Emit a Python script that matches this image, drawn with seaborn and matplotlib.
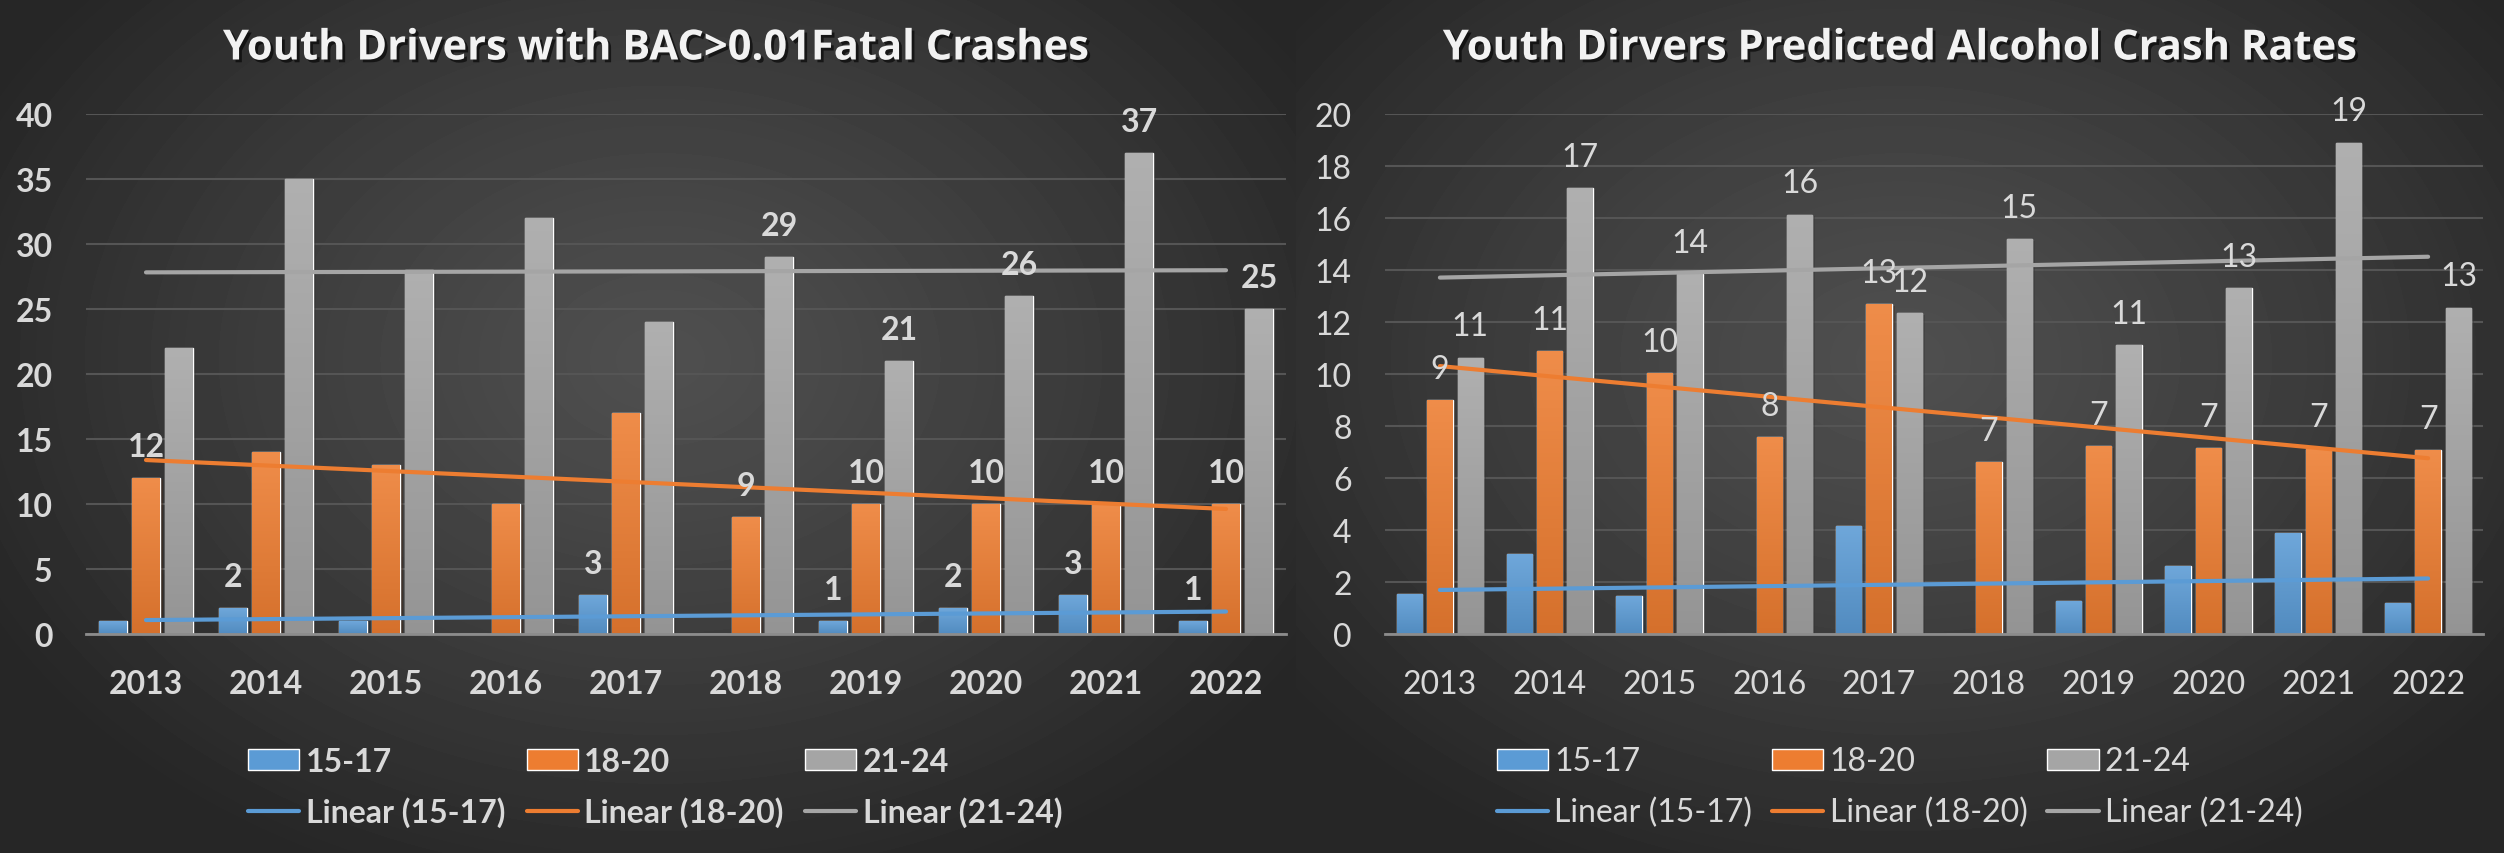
import numpy as np
import pandas as pd
import matplotlib
matplotlib.use("Agg")
import matplotlib.pyplot as plt
import matplotlib.patheffects as pe
from matplotlib.patches import Patch
from matplotlib.lines import Line2D
from matplotlib.colors import to_rgb
import seaborn as sns

# Data
years = ["2013", "2014", "2015", "2016", "2017", "2018", "2019", "2020", "2021", "2022"]
groups = ["15-17", "18-20", "21-24"]

# left chart: youth drivers with BAC > 0.01 in fatal crashes
crash_1517 = [1, 2, 1, 0, 3, 0, 1, 2, 3, 1]
crash_1820 = [12, 14, 13, 10, 17, 9, 10, 10, 10, 10]
crash_2124 = [22, 35, 28, 32, 24, 29, 21, 26, 37, 25]

# right chart: predicted alcohol crash rates
rate_1517 = [1.53, 3.06, 1.45, 0, 4.17, 0, 1.26, 2.60, 3.90, 1.18]
rate_1820 = [8.99, 10.87, 10.03, 7.57, 12.68, 6.61, 7.22, 7.15, 7.13, 7.07]
rate_2124 = [10.63, 17.14, 13.83, 16.13, 12.33, 15.18, 11.10, 13.30, 18.90, 12.55]

# which bars carry a data label in the original
crash_lab_1517 = [0, 1, 0, 0, 1, 0, 1, 1, 1, 1]
crash_lab_1820 = [1, 0, 0, 0, 0, 1, 1, 1, 1, 1]
crash_lab_2124 = [0, 0, 0, 0, 0, 1, 1, 1, 1, 1]
rate_lab_1517 = [0] * 10
rate_lab_1820 = [1] * 10
rate_lab_2124 = [1] * 10

colors = ["#5b9bd5", "#ed7d31", "#a5a5a5"]
txt_color = "#d9d9d9"

sns.set_theme(style="dark")
plt.rcParams["font.family"] = ["Lato", "DejaVu Sans"]

W, H = 2504, 854
fig = plt.figure(figsize=(W / 100, H / 100), dpi=100)

# dark background with a soft radial glow behind each chart
bg_ax = fig.add_axes([0, 0, 1, 1], zorder=-10)
yy, xx = np.mgrid[0:H, 0:W]
bg = np.zeros((H, W))
for cx, x0, x1 in [(660, 0, 1296), (1900, 1296, W)]:
    d = np.sqrt(((xx - cx) / 760.0) ** 2 + ((yy - 360) / 560.0) ** 2)
    d = np.clip(d, 0, 1) ** 1.2
    val = 0.31 * (1 - d) + 0.15 * d
    m = (xx >= x0) & (xx < x1)
    bg[m] = val[m]
bg_ax.imshow(bg, cmap="gray", vmin=0, vmax=1, aspect="auto")
bg_ax.axis("off")


def shade(c, f):
    r = np.array(to_rgb(c))
    if f > 0:
        return r + (1 - r) * f
    return r * (1 + f)


def gradient_bars(ax):
    for cont, c in zip(ax.containers, colors):
        top, bot = shade(c, 0.12), shade(c, -0.1)
        t = np.linspace(0, 1, 64)[:, None, None]
        img = top * (1 - t) + bot * t
        for p in cont.patches:
            h = p.get_height()
            if h <= 0:
                continue
            x = p.get_x()
            im = ax.imshow(img, extent=[x, x + p.get_width(), 0, h], origin="upper",
                           aspect="auto", zorder=p.get_zorder() + 0.1)
            im.set_clip_path(p)
            p.set_path_effects([pe.SimplePatchShadow(offset=(2, -1), alpha=0.35), pe.Normal()])


def draw_chart(ax, series, labels, ymax, ystep, weight):
    df = pd.DataFrame({
        "year": years * 3,
        "group": np.repeat(groups, len(years)),
        "value": np.concatenate(series),
    })
    sns.barplot(data=df, x="year", y="value", hue="group", hue_order=groups,
                palette=colors, width=0.83, gap=0.16, saturation=1,
                legend=False, errorbar=None, ax=ax, zorder=2)
    gradient_bars(ax)

    xs = np.arange(len(years))
    for vals, c in zip(series, colors):
        sns.regplot(x=xs, y=np.array(vals, dtype=float), scatter=False, ci=None,
                    truncate=True, ax=ax, color=c, line_kws={"lw": 3, "zorder": 5})

    for cont, vals, flags in zip(ax.containers, series, labels):
        for p, v, f in zip(cont.patches, vals, flags):
            if not f:
                continue
            ax.annotate(f"{round(v)}", (p.get_x() + p.get_width() / 2, v),
                        xytext=(0, 16), textcoords="offset points", ha="center",
                        va="baseline", fontsize=23, color=txt_color,
                        fontweight=weight, zorder=6, annotation_clip=False)

    ax.set_xlim(-0.5, len(years) - 0.5)
    ax.set_ylim(0, ymax)
    ax.set_yticks(np.arange(0, ymax + 0.1, ystep))
    ax.set_facecolor("none")
    ax.grid(axis="y", color="#555555", lw=1.5)
    ax.grid(axis="x", visible=False)
    ax.set_axisbelow(True)
    for s in ["top", "right", "left"]:
        ax.spines[s].set_visible(False)
    ax.spines["bottom"].set_color("#8c8c8c")
    ax.spines["bottom"].set_linewidth(2)
    ax.spines["bottom"].set_zorder(4)
    ax.tick_params(axis="x", length=0, pad=25, labelsize=23, labelcolor=txt_color)
    ax.tick_params(axis="y", length=0, pad=24, labelsize=23, labelcolor=txt_color)
    ax.set_xlabel("")
    ax.set_ylabel("")
    for lbl in ax.get_xticklabels() + ax.get_yticklabels():
        lbl.set_fontweight(weight)


ax1 = fig.add_axes([86 / W, 219 / H, 1200 / W, 520 / H])
draw_chart(ax1, [crash_1517, crash_1820, crash_2124],
           [crash_lab_1517, crash_lab_1820, crash_lab_2124], 40, 5, "bold")

ax2 = fig.add_axes([1385 / W, 219 / H, 1098 / W, 520 / H])
draw_chart(ax2, [rate_1517, rate_1820, rate_2124],
           [rate_lab_1517, rate_lab_1820, rate_lab_2124], 20, 2, "normal")

shadow = [pe.withSimplePatchShadow(offset=(2, -2), shadow_rgbFace="black", alpha=0.6)]
title_font = ["Open Sans", "DejaVu Sans"]
fig.text(656 / W, 1 - 50 / H, "Youth Drivers with BAC>0.01Fatal Crashes", ha="center",
         va="center", fontsize=30, fontweight="bold", family=title_font,
         color="#f2f2f2", path_effects=shadow)
fig.text(1900 / W, 1 - 50 / H, "Youth Dirvers Predicted Alcohol Crash Rates", ha="center",
         va="center", fontsize=30, fontweight="bold", family=title_font,
         color="#f2f2f2", path_effects=shadow)

# legends: bars on the first row, trend lines on the second
handles = []
for g, c in zip(groups, colors):
    handles.append(Patch(facecolor=c, label=g))
    handles.append(Line2D([], [], color=c, lw=3, label=f"Linear ({g})"))

for x0, weight, cs in [(248, "bold", 0.68), (1497, "normal", 0.62)]:
    fig.legend(handles=handles, ncol=3, loc="center left",
               bbox_to_anchor=(x0 / W, 1 - 788 / H), frameon=False,
               prop={"size": 23, "weight": weight}, labelcolor=txt_color,
               handlelength=1.6, handleheight=0.65, handletextpad=0.2,
               columnspacing=cs, labelspacing=0.65, borderpad=0, borderaxespad=0)

fig.savefig("out.png", dpi=100)
